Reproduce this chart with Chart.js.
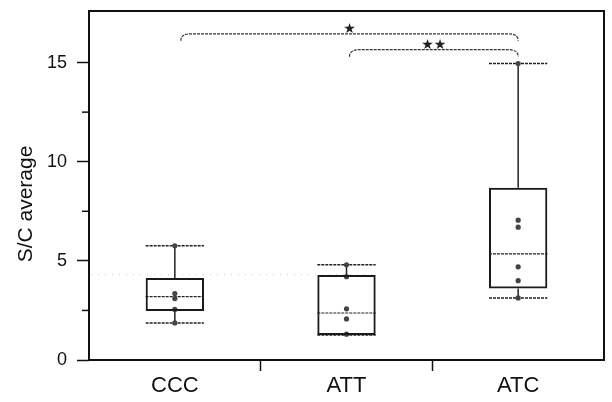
<!DOCTYPE html>
<html>
<head>
<meta charset="utf-8">
<script src="https://cdn.jsdelivr.net/npm/chart.js@4.4.1/dist/chart.umd.min.js"></script>
<style>
  html, body { margin: 0; padding: 0; background: #fff; }
</style>
</head>
<body>
<canvas id="myChart" width="612" height="402"></canvas>
<script>
// data
var groups = ['CCC', 'ATT', 'ATC'];
var q1 = [2.47, 1.26, 3.6];
var q3 = [4.14, 4.29, 8.69];
var medians = [3.2, 2.37, 5.35];
var whiskLow = [1.87, 1.26, 3.13];
var whiskHigh = [5.76, 4.8, 14.95];
var pointsCCC = [5.76, 3.35, 3.1, 2.55, 1.87];
var pointsATT = [4.8, 4.2, 2.58, 2.07, 1.3];
var pointsATC = [14.95, 7.05, 6.7, 4.7, 4.0, 3.13];
var yTicks = [0, 5, 10, 15];
var yMinorTicks = [2.5, 7.5, 12.5];
var bracketFrom = [0, 1];
var bracketTo = [2, 2];
var bracketLevel = [16.45, 15.65];
var bracketText = ['★', '★★'];
var refLine = 4.3;
var yTitle = 'S/C average';

var allPoints = [];
[pointsCCC, pointsATT, pointsATC].forEach(function (arr, i) {
  arr.forEach(function (v) { allPoints.push({ x: groups[i], y: v }); });
});

var fontFam = '"Liberation Sans", Arial, sans-serif';

function seg(ctx, x1, y1, x2, y2) {
  ctx.beginPath();
  ctx.moveTo(x1, y1);
  ctx.lineTo(x2, y2);
  ctx.stroke();
}

var boxExtras = {
  id: 'boxExtras',
  beforeDatasetsDraw: function (chart) {
    var ctx = chart.ctx, ys = chart.scales.y, area = chart.chartArea;
    var meta = chart.getDatasetMeta(0);
    ctx.save();
    // faint dotted line from the scan
    var attBar = meta.data[1];
    ctx.strokeStyle = '#c8c8c8';
    ctx.lineWidth = 1;
    ctx.setLineDash([1, 6]);
    seg(ctx, area.left + 2, ys.getPixelForValue(refLine), attBar.x + attBar.width / 2, ys.getPixelForValue(refLine));

    for (var i = 0; i < groups.length; i++) {
      var bar = meta.data[i];
      var cx = bar.x, half = bar.width / 2;
      var yHi = ys.getPixelForValue(whiskHigh[i]);
      var yLo = ys.getPixelForValue(whiskLow[i]);
      ctx.strokeStyle = '#222';
      ctx.setLineDash([]);
      ctx.lineWidth = 1.5;
      seg(ctx, cx, ys.getPixelForValue(q3[i]), cx, yHi);
      seg(ctx, cx, ys.getPixelForValue(q1[i]), cx, yLo);
      ctx.setLineDash([3, 1]);
      seg(ctx, cx - half, yHi, cx + half, yHi);
      seg(ctx, cx - half, yLo, cx + half, yLo);
      ctx.lineWidth = 1.2;
      var ym = ys.getPixelForValue(medians[i]);
      seg(ctx, cx - half, ym, cx + half, ym);
    }
    ctx.restore();
  },
  afterDatasetsDraw: function (chart) {
    var ctx = chart.ctx, xs = chart.scales.x, ys = chart.scales.y, area = chart.chartArea;
    ctx.save();
    ctx.strokeStyle = '#111';
    ctx.lineWidth = 2;
    ctx.strokeRect(area.left, area.top, area.right - area.left, area.bottom - area.top);

    ctx.lineWidth = 1.5;
    yMinorTicks.forEach(function (v) {
      var y = ys.getPixelForValue(v);
      seg(ctx, area.left - 7, y, area.left, y);
    });

    // axis title, placed where the scan has it
    ctx.fillStyle = '#111';
    ctx.font = '21px ' + fontFam;
    ctx.textAlign = 'center';
    ctx.textBaseline = 'middle';
    ctx.save();
    ctx.translate(26, 204);
    ctx.rotate(-Math.PI / 2);
    ctx.fillText(yTitle, 0, 0);
    ctx.restore();

    // significance brackets
    ctx.strokeStyle = '#333';
    ctx.lineWidth = 1.2;
    ctx.fillStyle = '#222';
    ctx.textBaseline = 'bottom';
    ctx.font = '14px "DejaVu Sans", sans-serif';
    for (var b = 0; b < bracketFrom.length; b++) {
      var x1 = xs.getPixelForValue(bracketFrom[b]) + (b === 0 ? 6 : 3);
      var x2 = xs.getPixelForValue(bracketTo[b]);
      var y = ys.getPixelForValue(bracketLevel[b]);
      ctx.setLineDash([3, 1]);
      ctx.beginPath();
      ctx.moveTo(x1, y + 7);
      ctx.quadraticCurveTo(x1, y, x1 + 10, y);
      ctx.lineTo(x2 - 10, y);
      ctx.quadraticCurveTo(x2, y, x2, y + 7);
      ctx.stroke();
      ctx.fillText(bracketText[b], (x1 + x2) / 2, y + 3);
    }
    ctx.restore();
  }
};

var ctx = document.getElementById('myChart').getContext('2d');
var myChart = new Chart(ctx, {
  type: 'bar',
  data: {
    labels: groups,
    datasets: [{
      data: q1.map(function (v, i) { return [v, q3[i]]; }),
      backgroundColor: 'rgba(255,255,255,0)',
      borderColor: '#1a1a1a',
      borderWidth: 2,
      borderSkipped: false,
      barPercentage: 0.34,
      categoryPercentage: 1
    }, {
      type: 'line',
      data: allPoints,
      showLine: false,
      pointRadius: 2.6,
      pointBackgroundColor: '#444',
      pointBorderWidth: 0
    }]
  },
  options: {
    responsive: false,
    animation: false,
    layout: { padding: { left: 0, right: 8, top: 11, bottom: 0 } },
    plugins: { legend: { display: false }, tooltip: { enabled: false } },
    scales: {
      x: {
        offset: true,
        border: { display: false },
        grid: {
          offset: true,
          drawOnChartArea: false,
          tickLength: 11,
          tickWidth: 1.5,
          tickColor: function (c) {
            return (!c.tick || c.index === 0) ? 'rgba(0,0,0,0)' : '#111';
          }
        },
        ticks: { color: '#111', padding: 2, font: { family: fontFam, size: 22 } },
        afterFit: function (s) { s.height = 42; s.paddingLeft = 0; s.paddingRight = 0; }
      },
      y: {
        min: 0,
        max: 17.6,
        border: { display: false },
        grid: { drawOnChartArea: false, tickLength: 12, tickWidth: 1.5, tickColor: '#111' },
        ticks: { color: '#111', padding: 10, font: { family: fontFam, size: 18 } },
        afterBuildTicks: function (s) { s.ticks = yTicks.map(function (v) { return { value: v }; }); },
        afterFit: function (s) { s.width = 89; s.paddingTop = 0; s.paddingBottom = 0; }
      }
    }
  },
  plugins: [boxExtras]
});
</script>
</body>
</html>
